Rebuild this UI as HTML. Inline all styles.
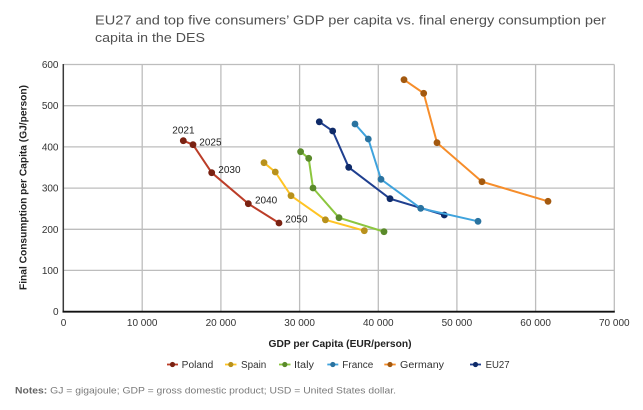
<!DOCTYPE html>
<html>
<head>
<meta charset="utf-8">
<style>
  html, body { margin:0; padding:0; background:#fff; }
  svg { display:block; }
  text { font-family: "Liberation Sans", "DejaVu Sans", sans-serif; }
</style>
</head>
<body>
<svg width="643" height="410" viewBox="0 0 643 410" xmlns="http://www.w3.org/2000/svg">
  <rect width="643" height="410" fill="#fff"/>

  <!-- Title -->
  <text x="95" y="24.5" font-size="13" fill="#505050" textLength="511" lengthAdjust="spacingAndGlyphs">EU27 and top five consumers’ GDP per capita vs. final energy consumption per</text>
  <text x="95" y="42" font-size="13" fill="#505050" textLength="110" lengthAdjust="spacingAndGlyphs">capita in the DES</text>

  <!-- Gridlines -->
  <g stroke="#bdbdbd" stroke-width="1.3" fill="none">
    <line x1="63.5" y1="64.5" x2="614.3" y2="64.5"/>
    <line x1="63.5" y1="105.7" x2="614.3" y2="105.7"/>
    <line x1="63.5" y1="146.9" x2="614.3" y2="146.9"/>
    <line x1="63.5" y1="188.1" x2="614.3" y2="188.1"/>
    <line x1="63.5" y1="229.3" x2="614.3" y2="229.3"/>
    <line x1="63.5" y1="270.4" x2="614.3" y2="270.4"/>
    <line x1="142.2" y1="64.5" x2="142.2" y2="311.5"/>
    <line x1="220.9" y1="64.5" x2="220.9" y2="311.5"/>
    <line x1="299.6" y1="64.5" x2="299.6" y2="311.5"/>
    <line x1="378.3" y1="64.5" x2="378.3" y2="311.5"/>
    <line x1="456.9" y1="64.5" x2="456.9" y2="311.5"/>
    <line x1="535.6" y1="64.5" x2="535.6" y2="311.5"/>
    <line x1="614.3" y1="64.5" x2="614.3" y2="311.5"/>
  </g>
  <!-- Axes -->
  <line x1="63.3" y1="64" x2="63.3" y2="312" stroke="#3a3a3a" stroke-width="1.5"/>
  <line x1="62.5" y1="311.7" x2="614.8" y2="311.7" stroke="#111" stroke-width="1.8"/>

  <!-- Y tick labels -->
  <g font-size="10" fill="#333" text-anchor="end">
    <text x="58.5" y="68">600</text>
    <text x="58.5" y="109.2">500</text>
    <text x="58.5" y="150.4">400</text>
    <text x="58.5" y="191.6">300</text>
    <text x="58.5" y="232.8">200</text>
    <text x="58.5" y="274">100</text>
    <text x="58.5" y="315.2">0</text>
  </g>
  <!-- X tick labels -->
  <g font-size="10" fill="#333" text-anchor="middle">
    <text x="63.5" y="326">0</text>
    <text x="142.2" y="326">10 000</text>
    <text x="220.9" y="326">20 000</text>
    <text x="299.6" y="326">30 000</text>
    <text x="378.3" y="326">40 000</text>
    <text x="456.9" y="326">50 000</text>
    <text x="535.6" y="326">60 000</text>
    <text x="614.3" y="326">70 000</text>
  </g>

  <!-- Axis titles -->
  <text x="268.5" y="347" font-size="10" font-weight="bold" fill="#222" textLength="143" lengthAdjust="spacingAndGlyphs">GDP per Capita (EUR/person)</text>
  <text transform="translate(26.5,290) rotate(-90)" x="0" y="0" font-size="10" font-weight="bold" fill="#222" textLength="205" lengthAdjust="spacingAndGlyphs">Final Consumption per Capita (GJ/person)</text>

  <!-- Series -->
  <!-- Spain -->
  <polyline points="264,162.7 275.3,172 291,195.7 325.4,219.8 364.3,230.7" fill="none" stroke="#ffc424" stroke-width="2"/>
  <g fill="#b8911c">
    <circle cx="264" cy="162.7" r="3.4"/><circle cx="275.3" cy="172" r="3.4"/><circle cx="291" cy="195.7" r="3.4"/><circle cx="325.4" cy="219.8" r="3.4"/><circle cx="364.3" cy="230.7" r="3.4"/>
  </g>
  <!-- Italy -->
  <polyline points="300.6,151.7 308.7,158.3 313,188 339,217.7 384,231.7" fill="none" stroke="#8cc63f" stroke-width="2"/>
  <g fill="#5a8a2a">
    <circle cx="300.6" cy="151.7" r="3.4"/><circle cx="308.7" cy="158.3" r="3.4"/><circle cx="313" cy="188" r="3.4"/><circle cx="339" cy="217.7" r="3.4"/><circle cx="384" cy="231.7" r="3.4"/>
  </g>
  <!-- EU27 -->
  <polyline points="319.3,121.8 332.7,131 348.7,167.3 390,198.7 444.3,215" fill="none" stroke="#1f3f8f" stroke-width="2"/>
  <g fill="#0e2a68">
    <circle cx="319.3" cy="121.8" r="3.4"/><circle cx="332.7" cy="131" r="3.4"/><circle cx="348.7" cy="167.3" r="3.4"/><circle cx="390" cy="198.7" r="3.4"/><circle cx="444.3" cy="215" r="3.4"/>
  </g>
  <!-- France -->
  <polyline points="355,124 368.3,139 381,179.3 420.7,208.3 478,221.3" fill="none" stroke="#3fa3dd" stroke-width="2"/>
  <g fill="#2a73a0">
    <circle cx="355" cy="124" r="3.4"/><circle cx="368.3" cy="139" r="3.4"/><circle cx="381" cy="179.3" r="3.4"/><circle cx="420.7" cy="208.3" r="3.4"/><circle cx="478" cy="221.3" r="3.4"/>
  </g>
  <!-- Germany -->
  <polyline points="404,79.7 423.7,93.3 437,142.7 482,181.7 548,201.3" fill="none" stroke="#f68d2a" stroke-width="2"/>
  <g fill="#a3590f">
    <circle cx="404" cy="79.7" r="3.4"/><circle cx="423.7" cy="93.3" r="3.4"/><circle cx="437" cy="142.7" r="3.4"/><circle cx="482" cy="181.7" r="3.4"/><circle cx="548" cy="201.3" r="3.4"/>
  </g>
  <!-- Poland -->
  <polyline points="183.3,140.7 193,144.7 211.7,172.7 248.3,203.7 279,223" fill="none" stroke="#bb3d28" stroke-width="2"/>
  <g fill="#7a2212">
    <circle cx="183.3" cy="140.7" r="3.4"/><circle cx="193" cy="144.7" r="3.4"/><circle cx="211.7" cy="172.7" r="3.4"/><circle cx="248.3" cy="203.7" r="3.4"/><circle cx="279" cy="223" r="3.4"/>
  </g>

  <!-- Year labels -->
  <g font-size="10" fill="#222">
    <text x="172.3" y="133.7">2021</text>
    <text x="199.3" y="145.3">2025</text>
    <text x="218.3" y="173">2030</text>
    <text x="255" y="203.7">2040</text>
    <text x="285.3" y="222.7">2050</text>
  </g>

  <!-- Legend -->
  <g stroke-width="1.8">
    <line x1="167" y1="364.5" x2="178" y2="364.5" stroke="#bb3d28"/>
    <line x1="225" y1="364.5" x2="236.5" y2="364.5" stroke="#ffc424"/>
    <line x1="279" y1="364.5" x2="290.5" y2="364.5" stroke="#8cc63f"/>
    <line x1="327.3" y1="364.5" x2="338.3" y2="364.5" stroke="#3fa3dd"/>
    <line x1="384.3" y1="364.5" x2="395.7" y2="364.5" stroke="#f68d2a"/>
    <line x1="470" y1="364.5" x2="481" y2="364.5" stroke="#1f3f8f"/>
  </g>
  <circle cx="172.5" cy="364.5" r="2.6" fill="#7a2212"/>
  <circle cx="230.8" cy="364.5" r="2.6" fill="#b8911c"/>
  <circle cx="284.8" cy="364.5" r="2.6" fill="#5a8a2a"/>
  <circle cx="332.8" cy="364.5" r="2.6" fill="#2a73a0"/>
  <circle cx="390" cy="364.5" r="2.6" fill="#a3590f"/>
  <circle cx="475.5" cy="364.5" r="2.6" fill="#0e2a68"/>
  <g font-size="10" fill="#333">
    <text x="181.7" y="368" textLength="31.6" lengthAdjust="spacingAndGlyphs">Poland</text>
    <text x="241" y="368" textLength="25.3" lengthAdjust="spacingAndGlyphs">Spain</text>
    <text x="294" y="368" textLength="20" lengthAdjust="spacingAndGlyphs">Italy</text>
    <text x="342.3" y="368" textLength="31" lengthAdjust="spacingAndGlyphs">France</text>
    <text x="400" y="368" textLength="44" lengthAdjust="spacingAndGlyphs">Germany</text>
    <text x="485.6" y="368" textLength="24" lengthAdjust="spacingAndGlyphs">EU27</text>
  </g>

  <!-- Notes -->
  <text x="15" y="393.5" font-size="9.5" fill="#7a7a7a" textLength="381" lengthAdjust="spacingAndGlyphs"><tspan font-weight="bold" fill="#666">Notes:</tspan> GJ = gigajoule; GDP = gross domestic product; USD = United States dollar.</text>
</svg>
</body>
</html>
